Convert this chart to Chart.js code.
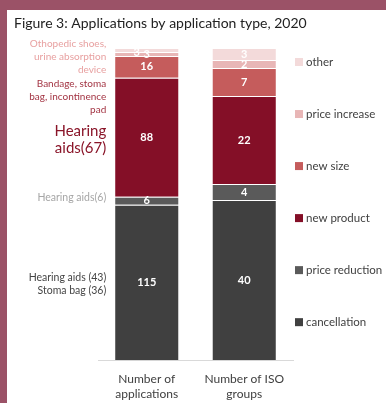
<!DOCTYPE html>
<html>
<head>
<meta charset="utf-8">
<script src="https://cdn.jsdelivr.net/npm/chart.js@4.4.1/dist/chart.umd.min.js"></script>
<style>
  html, body { margin: 0; padding: 0; }
  body { width: 386px; height: 403px; background: #9b5267; position: relative; overflow: hidden; }
  #wrap { position: absolute; left: 7px; top: 10px; width: 379px; height: 403px; background: #fff; }
</style>
</head>
<body>
<div id="wrap"><canvas id="chart"></canvas></div>
<script>
// data
const categories = [["Number of", "applications"], ["Number of ISO", "groups"]];
const seriesNames = ["cancellation", "price reduction", "new product", "new size", "price increase", "other"];
const cancellation = [115, 40];
const priceReduction = [6, 4];
const newProduct = [88, 22];
const newSize = [16, 7];
const priceIncrease = [3, 2];
const other = [3, 3];

const series = [cancellation, priceReduction, newProduct, newSize, priceIncrease, other];
const colors = ["#404040", "#5a5a5a", "#840f27", "#c55c5c", "#e8b6b6", "#f3dada"];
const FONT = "Lato";

const totals = categories.map((c, i) => series.reduce((s, arr) => s + arr[i], 0));

// side notes next to the first bar (y given in percent of the bar)
const notes = [
  { lines: ["Othopedic shoes,", "urine absorption", "device"], at: 97.1, color: "#e8a1a1", size: 10, lh: 13 },
  { lines: ["Bandage, stoma", "bag, incontinence", "pad"], at: 84.3, color: "#a33443", size: 10, lh: 13 },
  { lines: ["Hearing", "aids(67)"], at: 70.7, color: "#8a1529", size: 15, lh: 17 },
  { lines: ["Hearing aids(6)"], at: 52.2, color: "#a6a6a6", size: 10.5, lh: 13 },
  { lines: ["Hearing aids (43)", "Stoma bag (36)"], at: 24.5, color: "#454545", size: 10.5, lh: 13 }
];

// white counts inside each segment
const segmentLabels = {
  id: "segmentLabels",
  afterDatasetsDraw(chart) {
    const ctx = chart.ctx;
    ctx.save();
    ctx.font = "bold 11px " + FONT;
    ctx.fillStyle = "#fff";
    ctx.textAlign = "center";
    ctx.textBaseline = "middle";
    chart.data.datasets.forEach((ds, di) => {
      chart.getDatasetMeta(di).data.forEach((bar, i) => {
        let x = bar.x, y = (bar.y + bar.base) / 2;
        if (di > 0 && bar.base - bar.y < 6) {
          const prev = chart.getDatasetMeta(di - 1).data[i];
          if (prev.base - prev.y < 6) { x -= 10; y += 2; }
        }
        ctx.fillText(ds.counts[i], x, y);
      });
    });
    ctx.restore();
  }
};

// title, notes and legend drawn by hand
const extras = {
  id: "extras",
  afterDraw(chart) {
    const { ctx, chartArea } = chart;
    const yScale = chart.scales.y;
    ctx.save();
    ctx.textBaseline = "middle";

    ctx.font = "14px " + FONT;
    ctx.fillStyle = "#222";
    ctx.textAlign = "left";
    ctx.fillText("Figure 3: Applications by application type, 2020", 7, 13);

    const bar = chart.getDatasetMeta(0).data[0];
    const nx = bar.x - bar.width / 2 - 8;
    ctx.textAlign = "right";
    notes.forEach(n => {
      ctx.font = n.size + "px " + FONT;
      ctx.fillStyle = n.color;
      const cy = yScale.getPixelForValue(n.at);
      const top = cy - (n.lines.length - 1) * n.lh / 2;
      n.lines.forEach((t, k) => ctx.fillText(t, nx, top + k * n.lh));
    });

    const step = chartArea.height / 6;
    const lx = chartArea.right + 2;
    ctx.textAlign = "left";
    ctx.font = "11.5px " + FONT;
    chart.data.datasets.slice().reverse().forEach((ds, k) => {
      const y = chartArea.top + 14 + k * step;
      ctx.fillStyle = ds.backgroundColor;
      ctx.fillRect(lx, y - 4, 8, 8);
      ctx.fillStyle = "#404040";
      ctx.fillText(ds.label, lx + 11, y);
    });
    ctx.restore();
  }
};

const datasets = series.map((arr, k) => ({
  label: seriesNames[k],
  data: arr.map((v, i) => v / totals[i] * 100),
  counts: arr,
  backgroundColor: colors[k],
  borderColor: "rgba(255,255,255,0.45)",
  borderWidth: 1,
  barPercentage: 0.667,
  categoryPercentage: 1
}));

chart = new Chart(document.getElementById("chart"), {
  type: "bar",
  data: { labels: categories, datasets: datasets },
  options: {
    responsive: true,
    maintainAspectRatio: false,
    animation: false,
    layout: { padding: { left: 91, right: 93, top: 38, bottom: 0 } },
    plugins: { legend: { display: false }, tooltip: { enabled: false } },
    scales: {
      x: {
        stacked: true,
        grid: { display: false, drawTicks: false },
        border: { display: true, color: "#d9d9d9", width: 1 },
        ticks: { color: "#404040", padding: 12, font: { family: FONT, size: 12 } }
      },
      y: { stacked: true, display: false, min: 0, max: 100 }
    }
  },
  plugins: [segmentLabels, extras]
});
</script>
</body>
</html>
